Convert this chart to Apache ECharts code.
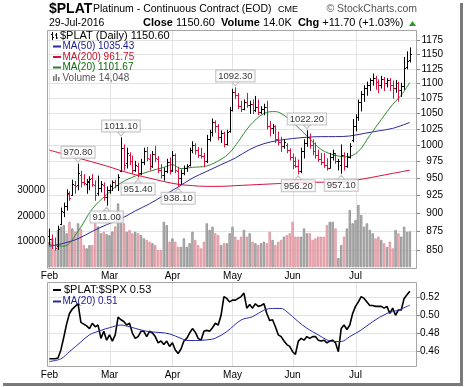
<!DOCTYPE html>
<html><head><meta charset="utf-8">
<script src="https://cdn.jsdelivr.net/npm/echarts@6/dist/echarts.min.js"></script>
<style>html,body{margin:0;padding:0;background:#fff}#c{width:464px;height:387px}</style>
</head><body><div id="c"></div><script>
// ---------- data ----------
const months = ['Feb','Mar','Apr','May','Jun','Jul'];
const monthDays = [21,22,21,21,22,20];
const open = [868,864,856,855,885,902,910,927,925,940,940,955,945,941,945,950,940,928,936,940,922,
932,938,944,940,960,995,972,985,975,962,968,958,974,990,978,968,986,978,962,955,960,974,
962,984,960,950,958,965,970,992,1000,992,985,983,975,1010,1020,1036,1030,1012,1018,1002,1022,
1055,1085,1080,1062,1058,1068,1064,1066,1055,1060,1052,1058,1060,1030,1026,1029,1010,1005,998,1000,992,
982,975,968,960,990,1003,1012,1000,990,984,978,974,970,965,982,985,975,970,985,968,982,1008,
1030,1045,1068,1082,1092,1098,1105,1110,1102,1098,1108,1100,1105,1098,1092,1100,1088,1095,1128,1140];
const high = [878,870,866,882,907,914,933,930,947,945,970.8,960,955,948,952,955,946,953,945,943,937,
940,946,947,955,1011.1,1000,995,988,983,975,972,978,995,996,985,990,998,982,970,965,978,980,
990,986,966,962,968,970,995,1005,1002,996,995,987,1015,1023,1041,1038,1032,1022,1020,1023,1060,
1090,1092.3,1083,1070,1072,1083,1070,1072,1078,1072,1061,1065,1070,1037,1032,1030,1020,1012,1008,1002,994,
986,981,977,995,1008,1022.2,1017,1008,1003,992,987,987,979,987,992,987,978,1000,988,987,1002,1040,
1048,1072,1086,1096,1102,1108,1116,1112,1106,1112,1110,1108,1108,1104,1105,1102,1100,1145,1155,1162];
const low = [857,852,850,851,884,895,904,918,925,928,933,937,940,928,933,938,918,925,930,918,911,
928,932,936,932,960,962,965,970,957,960,951.4,955,970,976,962,966,975,958,950,947,958,956,
960,958,938.1,942,955,960,968,988,986,981,980,967,973,1006,1014,1020,1008,1004,997,1000,1020,
1054,1075,1058,1053,1056,1060,1050,1050,1053,1048,1050,1048,1025,1014,1018,1004,1000,990,995,988,977,
964,966,956.2,958,980,998,995,985,980,975,970,966,962,965,977,972,962,957.1,962,966,980,1005,
1022,1039,1054,1070,1080,1088,1097,1090,1084,1092,1088,1094,1088,1075,1085,1070,1078,1090,1125,1137];
const close = [865,856,853,878,903,910,928,921,942,938,958,945,943,946,948,941,925,936,942,922,932,
938,944,940,952,995,970,988,975,962,970,958,974,990,980,968,986,980,962,955,960,974,960,
985,962,950,958,965,968,992,1000,992,985,983,975,1010,1020,1036,1030,1012,1018,1002,1020,1055,
1085,1080,1062,1058,1068,1064,1066,1055,1060,1052,1058,1060,1030,1026,1029,1010,1005,998,1005,992,982,
970,968,960,990,1003,1012,1000,990,984,978,974,970,965,982,988,975,976,985,968,982,998,1030,
1045,1068,1082,1092,1098,1105,1110,1102,1098,1108,1100,1105,1098,1092,1100,1088,1095,1127,1138.9,1150.6];
const volume = [10000,11300,6800,14600,15900,16500,13300,17800,15200,14000,17200,15000,8700,7400,8700,8700,17200,16000,13300,13900,13000,
12500,14000,16000,25000,21000,17200,13900,14600,13300,13900,13300,12600,11300,10700,10000,9400,8700,6800,6800,17800,16500,10000,
11300,10000,8000,8000,11300,8000,9400,13900,10700,8700,7400,10000,17200,14600,15900,13300,12600,8700,9400,9400,13300,
15900,12000,10700,12000,14600,12000,13300,10000,9400,8700,9400,10000,9400,13900,10700,8700,10000,10700,12000,12600,13300,
17800,12000,12000,12000,15200,13300,13300,10700,11300,12000,12000,12000,16500,17800,17800,15200,3600,8700,12000,15200,22400,17200,
18500,24400,20500,15900,17200,14600,13300,11300,12000,10700,9400,8000,10000,7400,14600,13300,12000,15900,13900,14048];
// moving averages: [trading-day index, value]
const ma50 = [[0,855],[5,859],[10,865],[15,875],[20,884],[25,892],[30,903],[35,913],[40,925],[45,937],[50,950],[55,960],[60,970],[65,980],[70,993],[75,1002],[80,1007],[85,1010],[90,1012],[95,1013],[100,1013],[105,1014],[110,1018],[115,1022],[120,1026],[126,1035.43]];
const ma200 = [[0,992],[10,980],[20,968],[25,961],[30,955],[35,950],[40,945],[45,941],[50,939],[55,938],[60,938],[65,939],[70,940],[75,941],[80,942],[85,943],[90,944],[95,944],[100,944],[105,946],[110,949],[115,953],[120,957],[126,961.75]];
const ma20 = [[0,857],[5,855],[10,875],[15,906],[20,926],[25,943],[30,953],[35,960],[40,966],[43,970],[46,964],[50,966],[55,968],[60,978],[63,988],[66,1005],[70,1030],[75,1050],[79,1053],[82,1047],[85,1036],[90,1014],[95,993],[100,984],[104,982],[108,990],[112,1015],[116,1040],[120,1065],[123,1080],[126,1101.67]];
const ratio = [0.451,0.451,0.451,0.452,0.461,0.475,0.490,0.502,0.507,0.510,0.513,0.492,0.490,0.488,0.485,0.491,0.487,0.489,0.474,0.482,0.472,
0.478,0.471,0.478,0.498,0.495,0.493,0.489,0.491,0.480,0.474,0.476,0.482,0.482,0.476,0.482,0.480,0.476,0.469,0.471,0.467,0.471,0.465,
0.469,0.461,0.457,0.462,0.471,0.474,0.480,0.485,0.481,0.474,0.472,0.482,0.483,0.482,0.486,0.491,0.489,0.500,0.521,0.519,0.515,
0.517,0.517,0.519,0.521,0.525,0.508,0.512,0.508,0.513,0.510,0.511,0.513,0.502,0.494,0.495,0.487,0.478,0.476,0.471,0.467,0.465,
0.459,0.456,0.471,0.474,0.472,0.476,0.474,0.476,0.476,0.472,0.471,0.472,0.469,0.471,0.472,0.469,0.459,0.485,0.489,0.484,0.489,0.502,
0.510,0.515,0.521,0.519,0.515,0.511,0.511,0.510,0.510,0.510,0.508,0.510,0.502,0.508,0.500,0.506,0.506,0.519,0.523,0.527];
const ratioMa20 = [[0,0.448],[4,0.451],[7,0.459],[11,0.470],[14,0.478],[18,0.483],[21,0.486],[25,0.489],[28,0.487],[32,0.4835],[35,0.4815],[39,0.4805],[42,0.479],[46,0.474],[48,0.4716],[51,0.4716],[55,0.4723],[58,0.4742],[62,0.4816],[67,0.4947],[71,0.4984],[75,0.5058],[78,0.5077],[81,0.5077],[83,0.504],[87,0.4928],[90,0.4854],[94,0.4779],[97,0.4723],[99,0.4705],[102,0.4705],[105,0.476],[109,0.4835],[113,0.4928],[118,0.5021],[122,0.5058],[126,0.5114]];
const priceTicks = [850,875,900,925,950,975,1000,1025,1050,1075,1100,1125,1150,1175];
const volumeTicks = [10000,20000,30000];
const ratioTicks = [0.46,0.48,0.50,0.52];
const calloutIdx = [10,25,65,90,20,31,45,87,102];
const calloutSide = ['top','top','top','top','bottom','bottom','bottom','bottom','bottom'];

// ---------- build ----------
const FONT = '"Liberation Sans", Arial, sans-serif';
const cats = [];
const monthStart = [];
months.forEach((m,k)=>{ monthStart.push(cats.length); for(let d=1; d<=monthDays[k]; d++) cats.push(m+' '+d); });
cats.push('pad1','pad2');
const isUp = i => i===0 || close[i] >= close[i-1];
const UP = '#000000', DN = '#d4123c';

function xAxisCfg(gi, margin){
  return {type:'category', gridIndex:gi, data:cats, boundaryGap:true,
    axisLine:{show:false}, axisTick:{show:false}, splitLine:{show:false},
    axisLabel:{interval:(idx)=>monthStart.indexOf(idx)>=0, formatter:v=>v.split(' ')[0],
      fontSize:10, fontFamily:FONT, color:'#000', margin:margin}};
}
function vGrid(xi, yi, yv){
  return {type:'custom', xAxisIndex:xi, yAxisIndex:yi, z:0, silent:true, clip:false,
    data: monthStart.map(i=>[i,yv]), encode:{x:0,y:1},
    renderItem(params, api){
      const p = api.coord([api.value(0), api.value(1)]);
      const cs = params.coordSys; const x = Math.round(p[0]) + 0.5;
      return {type:'line', shape:{x1:x,y1:cs.y,x2:x,y2:cs.y+cs.height}, style:{stroke:'#e3e3e3', lineWidth:1}};
    }};
}
function calloutSeries(side){
  const pts = calloutIdx.filter((_,k)=>calloutSide[k]===side).map(i=>[i, side==='top'?high[i]:low[i]]);
  return {type:'scatter', xAxisIndex:0, yAxisIndex:0, z:8, silent:true, data:pts,
    symbol: side==='top' ? 'path://M0,0L8,0L4,5Z' : 'path://M4,0L8,5L0,5Z',
    symbolSize:[7,4], symbolOffset:[0, side==='top'?-4:4],
    itemStyle:{color:'#fff', borderColor:'#b4b4b4', borderWidth:1},
    label:{show:true, position:side, distance:0, formatter:p=>p.value[1].toFixed(2),
      fontSize:9.5, fontFamily:FONT, color:'#000', backgroundColor:'#fff',
      borderColor:'#b4b4b4', borderWidth:1, padding:[1,2,0,2]}};
}
function maLine(pts, color, yi, xi){
  return {type:'line', xAxisIndex:xi||0, yAxisIndex:yi, data:pts, smooth:0.35, showSymbol:false,
    silent:true, z:4, lineStyle:{color:color, width:1}};
}

const txt = (x,y,text,font,fill,align) => ({type:'text', x:x, y:y, z:20, silent:true,
  style:{text:text, font:font, fill:fill||'#000', align:align||'left', verticalAlign:'middle'}});
const bar = (x,y,w,h,fill) => ({type:'rect', z:20, silent:true, shape:{x:x,y:y,width:w,height:h}, style:{fill:fill}});
const ln = (x1,y1,x2,y2,c) => ({type:'line', z:20, silent:true, shape:{x1:x1,y1:y1,x2:x2,y2:y2}, style:{stroke:c||'#000', lineWidth:1}});

const graphics = [
  // frame shadow
  bar(460,3,3,383,'#7a7a7a'), bar(3,383,460,3,'#7a7a7a'),
  // panel borders
  {type:'rect', z:19, silent:true, shape:{x:47.5,y:30.5,width:369,height:238}, style:{fill:'none', stroke:'#a6a6a6', lineWidth:1}},
  {type:'rect', z:19, silent:true, shape:{x:47.5,y:282.5,width:369,height:84}, style:{fill:'none', stroke:'#a6a6a6', lineWidth:1}},
  // header
  txt(49,9,'$PLAT','bold 14px '+FONT),
  txt(93,9.5,'Platinum - Continuous Contract (EOD)','10.5px '+FONT),
  txt(278,9.5,'CME','9px '+FONT),
  txt(417,9.5,'\u00A9 StockCharts.com','10.5px '+FONT,'#555','right'),
  txt(49,23,'29-Jul-2016','10.5px '+FONT),
  {type:'text', x:143, y:23, z:20, silent:true, style:{
     text:'{b|Close} 1150.60  {b|Volume} 14.0K  {b|Chg} +11.70 (+1.03%)',
     font:'11px '+FONT, fill:'#000', align:'left', verticalAlign:'middle',
     rich:{b:{fontWeight:'bold', fontSize:11, fontFamily:FONT}}}},
  {type:'polygon', z:20, silent:true, shape:{points:[[409,26],[416,26],[412.5,21]]}, style:{fill:'#2a9a2a'}},
  // main legend
  ln(52.5,32,52.5,40), ln(51,34.5,52.5,34.5), ln(52.5,37.5,54,37.5),
  ln(56.5,33,56.5,39), ln(55,35,56.5,35), ln(56.5,38,58,38),
  txt(60,36,'$PLAT (Daily) 1150.60','11px '+FONT),
  bar(53,45.5,8,2,'#2a2a9a'), txt(62.5,46.5,'MA(50) 1035.43','10px '+FONT,'#1a1a8c'),
  bar(53,56,8,2,'#d4123c'), txt(62.5,57,'MA(200) 961.75','10px '+FONT,'#c8102e'),
  bar(53,66.5,8,2,'#2e7d2e'), txt(62.5,67.5,'MA(20) 1101.67','10px '+FONT,'#0a6a0a'),
  bar(53,76,1.5,5,'#777'), bar(55.5,74,1.5,7,'#777'), bar(58,77,1.5,4,'#777'),
  txt(62.5,78,'Volume 14,048','10px '+FONT,'#555'),
  // lower legend
  bar(53,289,8,2,'#000'), txt(64,290,'$PLAT:$SPX 0.53','11px '+FONT),
  bar(53,300.5,8,2,'#2a2a9a'), txt(62.5,301.5,'MA(20) 0.51','10px '+FONT,'#1a1a8c')
];

const option = {
  animation:false,
  textStyle:{fontFamily:FONT},
  grid:[{left:48,right:47,top:31,height:238,show:false,outerBoundsMode:'none'},
        {left:48,right:47,top:283,height:84,show:false,outerBoundsMode:'none'}],
  xAxis:[xAxisCfg(0,2), xAxisCfg(1,3)],
  yAxis:[
    {type:'log', logBase:10, gridIndex:0, position:'right', min:825.4, max:1192.8,
     axisLine:{show:false},
     axisTick:{show:true, length:3, customValues:priceTicks, lineStyle:{color:'#888'}},
     axisLabel:{customValues:priceTicks, formatter:v=>String(Math.round(v)), align:'right', margin:26,
       fontSize:10, fontFamily:FONT, color:'#000'},
     splitLine:{show:true, lineStyle:{color:'#e3e3e3', width:1}}},
    {type:'value', gridIndex:0, position:'left', min:-700, max:92600,
     axisLine:{show:false}, axisTick:{show:false, customValues:volumeTicks},
     axisLabel:{customValues:volumeTicks, formatter:v=>String(Math.round(v)), margin:3, fontSize:10, fontFamily:FONT, color:'#000'},
     splitLine:{show:false}},
    {type:'value', gridIndex:1, position:'right', min:0.4418, max:0.5363,
     axisLine:{show:false},
     axisTick:{show:true, length:3, customValues:ratioTicks, lineStyle:{color:'#888'}},
     axisLabel:{customValues:ratioTicks, formatter:v=>v.toFixed(2), margin:3, fontSize:10, fontFamily:FONT, color:'#000'},
     splitLine:{show:true, lineStyle:{color:'#e3e3e3', width:1}}}
  ],
  graphic: graphics,
  series:[
    vGrid(0,1,0),
    vGrid(1,2,0.5),
    {type:'bar', xAxisIndex:0, yAxisIndex:1, z:1, silent:true, barCategoryGap:'18%',
     data: volume.map((v,i)=>({value:v, itemStyle: isUp(i)
        ? {color:'#b8b8b8', borderColor:'#8c8c8c', borderWidth:0.8}
        : {color:'#f3b7be', borderColor:'#d98c96', borderWidth:0.8}}))},
    maLine(ma200,'#d4123c',0),
    maLine(ma50,'#2a2a9a',0),
    maLine(ma20,'#2e8b2e',0),
    {type:'custom', xAxisIndex:0, yAxisIndex:0, z:5, silent:true,
     data: close.map((c,i)=>[i, open[i], high[i], low[i], c]), encode:{x:0, y:[1,2,3,4]},
     renderItem(params, api){
       const i = api.value(0);
       const o = api.coord([i, api.value(1)]), h = api.coord([i, api.value(2)]),
             l = api.coord([i, api.value(3)]), c = api.coord([i, api.value(4)]);
       const x = Math.round(o[0]) + 0.5;
       const col = isUp(i) ? UP : DN;
       const st = {stroke:col, lineWidth:1};
       return {type:'group', children:[
         {type:'line', shape:{x1:x,y1:h[1]-0.5,x2:x,y2:l[1]+0.5}, style:st},
         {type:'line', shape:{x1:x-1.5,y1:Math.round(o[1])+0.5,x2:x,y2:Math.round(o[1])+0.5}, style:st},
         {type:'line', shape:{x1:x,y1:Math.round(c[1])+0.5,x2:x+1.5,y2:Math.round(c[1])+0.5}, style:st}
       ]};
     }},
    calloutSeries('top'),
    calloutSeries('bottom'),
    {type:'line', xAxisIndex:1, yAxisIndex:2, data:ratio, showSymbol:false, silent:true, z:4,
     lineStyle:{color:'#000', width:1.6}},
    maLine(ratioMa20,'#2a2aa8',2,1)
  ]
};
const chart = echarts.init(document.getElementById('c'), null, {renderer:'canvas'});
chart.setOption(option);
</script></body></html>
